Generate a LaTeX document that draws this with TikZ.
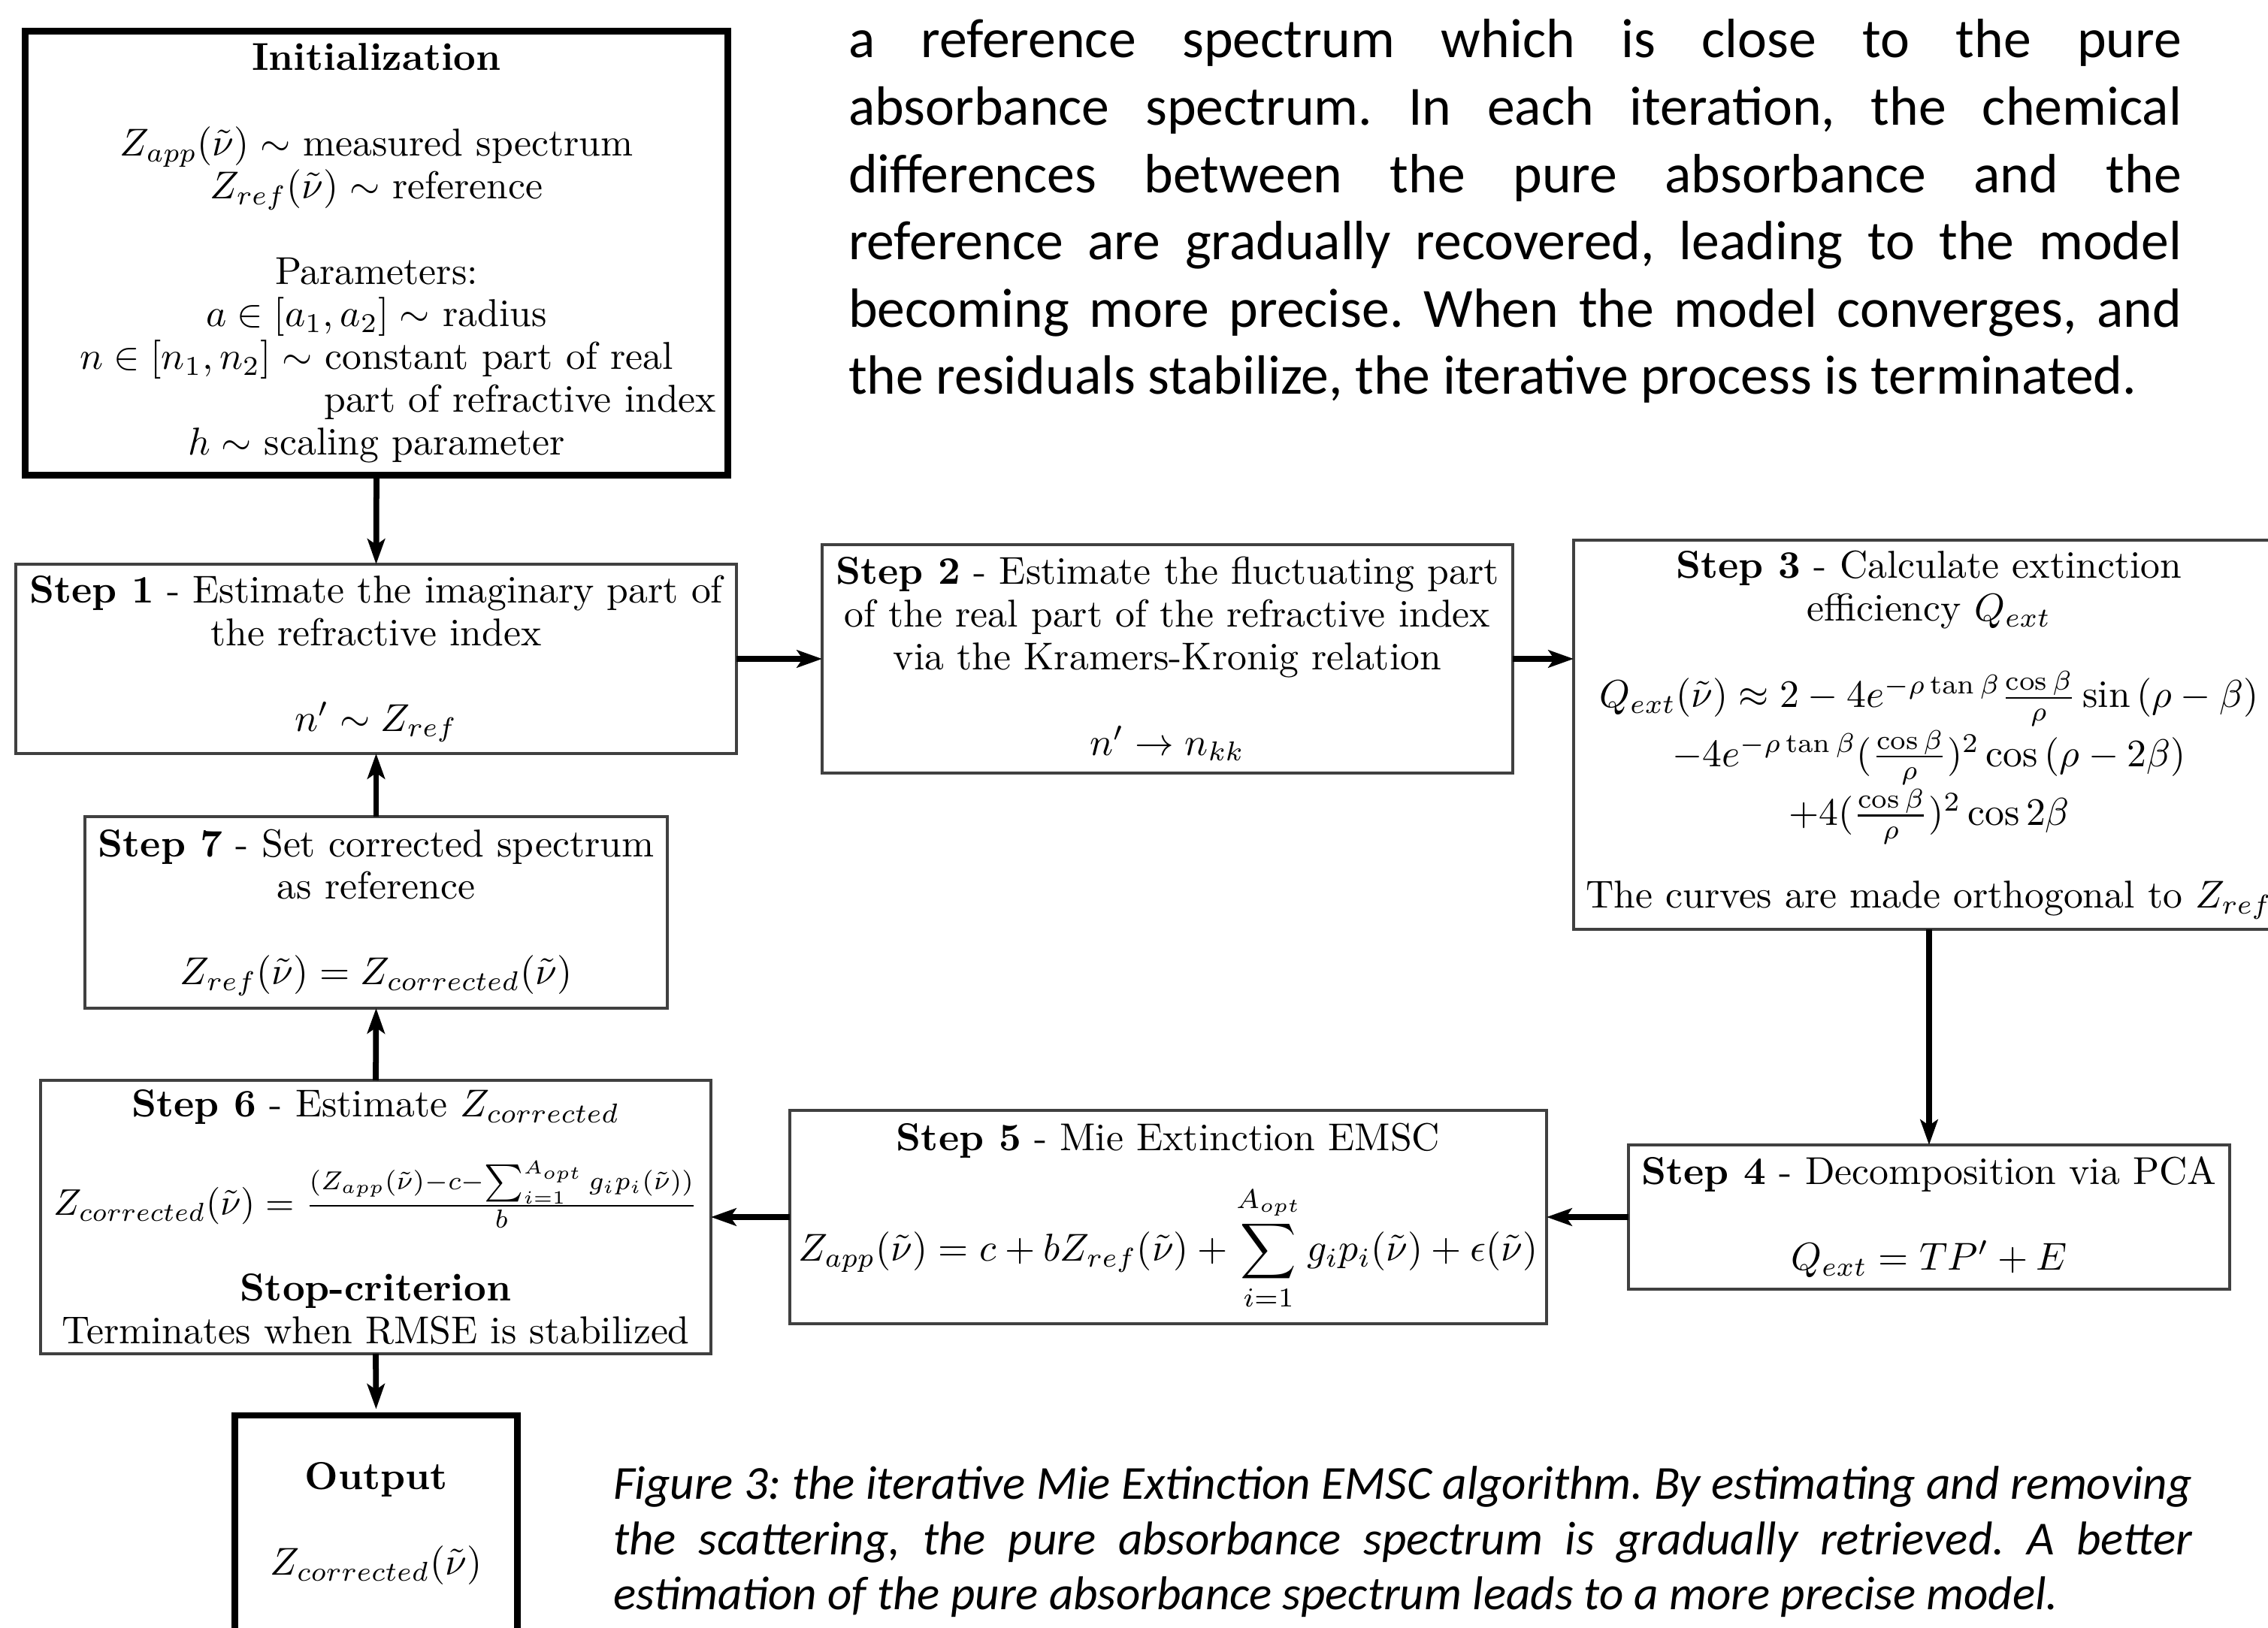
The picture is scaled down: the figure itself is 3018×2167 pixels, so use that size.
\documentclass[tikz,border=0pt]{standalone}
\usepackage{fontspec}
\usepackage{graphicx}
\usetikzlibrary{arrows.meta}
\newfontfamily\calfont{Carlito}
\frenchspacing
\begin{document}
\frenchspacing
\begin{tikzpicture}[x=0.1934pt,y=-0.1934pt,
  every node/.style={inner sep=0pt, outer sep=0pt},
  box/.style={draw=black!75, line width=0.6pt, align=center, font=\fontsize{10}{11}\selectfont},
  bigbox/.style={draw=black, line width=1.7pt, align=center, font=\fontsize{10}{11}\selectfont},
  sz/.style 2 args={minimum width=#1*0.1934pt, minimum height=#2*0.1934pt},
  arr/.style={line width=1.5pt, -{Stealth[length=6.5pt,width=4.5pt,inset=1.5pt]}},
  para/.style={anchor=base west, font=\calfont\fontsize{14.25}{17}\selectfont},
  capt/.style={anchor=base west, font=\calfont\itshape\fontsize{12.2}{14}\selectfont}]
\path[use as bounding box, fill=white] (0,0) rectangle (3018,2167);

% boxes
\node[bigbox, sz={935}{591}] (init) at (501,337) {%
\textbf{Initialization}\\[11pt]
$Z_{app}(\tilde{\nu})\sim$ measured spectrum\\
$Z_{ref}(\tilde{\nu})\sim$ reference\\[11pt]
Parameters:\\
$a\in[a_1,a_2]\sim$ radius\\
$n\in[n_1,n_2]\sim$ constant part of real\\
\hspace*{74pt}part of refractive index\\
$h\sim$ scaling parameter};

\node[box, sz={959}{252}] (s1) at (500.5,877) {%
\textbf{Step 1} - Estimate the imaginary part of\\
the refractive index\\[11pt]
$n'\sim Z_{ref}$};

\node[box, sz={919}{304}] (s2) at (1553.5,877) {%
\textbf{Step 2} - Estimate the fluctuating part\\
of the real part of the refractive index\\
via the Kramers-Kronig relation\\[11pt]
$n'\rightarrow n_{kk}$};

\node[box, sz={946}{518}] (s3) at (2567,978) {%
\textbf{Step 3} - Calculate extinction\\
efficiency $Q_{ext}$\\[10pt]
$Q_{ext}(\tilde{\nu})\approx 2-4e^{-\rho\tan\beta}\frac{\cos\beta}{\rho}\sin{(\rho-\beta)}$\\
$-4e^{-\rho\tan\beta}(\frac{\cos\beta}{\rho})^2\cos{(\rho-2\beta)}$\\
$+4(\frac{\cos\beta}{\rho})^2\cos{2\beta}$\\[8.5pt]
The curves are made orthogonal to $Z_{ref}$};

\node[box, sz={800}{192}] (s4) at (2567,1620) {%
\textbf{Step 4} - Decomposition via PCA\\[11pt]
$Q_{ext}=TP'+E$};

\node[box, sz={1007}{284}] (s5) at (1554.5,1620) {%
\textbf{Step 5} - Mie Extinction EMSC\\[6pt]
$\displaystyle Z_{app}(\tilde{\nu})=c+bZ_{ref}(\tilde{\nu})+\sum_{i=1}^{A_{opt}}g_ip_i(\tilde{\nu})+\epsilon(\tilde{\nu})$};

\node[box, sz={892}{364}] (s6) at (500,1620) {%
\textbf{Step 6} - Estimate $Z_{corrected}$\\[8.5pt]
\scalebox{0.955}{$Z_{corrected}(\tilde{\nu})=\frac{(Z_{app}(\tilde{\nu})-c-\sum_{i=1}^{A_{opt}}g_ip_i(\tilde{\nu}))}{b}$}\\[11pt]
\textbf{Stop-criterion}\\
Terminates when RMSE is stabilized};

\node[box, sz={775}{255}] (s7) at (500.5,1214.5) {%
\textbf{Step 7} - Set corrected spectrum\\
as reference\\[11pt]
$Z_{ref}(\tilde{\nu})=Z_{corrected}(\tilde{\nu})$};

\node[bigbox, sz={376}{288}] (out) at (500.5,2028) {%
\textbf{Output}\\[11pt]
$Z_{corrected}(\tilde{\nu})$};

% connectors
\draw[arr] (init.south) -- (s1.north);
\draw[arr] (s1.east) -- (s2.west);
\draw[arr] (s2.east) -- (s2.east -| s3.west);
\draw[arr] (s3.south) -- (s4.north);
\draw[arr] (s4.west) -- (s5.east);
\draw[arr] (s5.west) -- (s6.east);
\draw[arr] (s6.north) -- (s7.south);
\draw[arr] (s7.north) -- (s1.south);
\draw[arr, shorten >=1.6pt] (s6.south) -- (out.north);

% body text
\node[para] (p1) at (1129,77) {\makebox[343.1pt][s]{a reference spectrum which is close to the pure}};
\node[para] (p2) at (1129,166.6) {\makebox[343.1pt][s]{absorbance spectrum. In each iteration, the chemical}};
\node[para] (p3) at (1129,256.2) {\makebox[343.1pt][s]{differences between the pure absorbance and the}};
\node[para] (p4) at (1129,345.8) {\makebox[343.1pt][s]{reference are gradually recovered, leading to the model}};
\node[para] (p5) at (1129,435.4) {\makebox[343.1pt][s]{becoming more precise. When the model converges, and}};
\node[para] (p6) at (1129,525) {the residuals stabilize, the iterative process is terminated.};

% caption
\node[capt] (c1) at (816,1996) {\makebox[406.3pt][s]{Figure 3: the iterative Mie Extinction EMSC algorithm. By estimating and removing}};
\node[capt] (c2) at (816,2070) {\makebox[406.3pt][s]{the scattering, the pure absorbance spectrum is gradually retrieved. A better}};
\node[capt] (c3) at (816,2143) {estimation of the pure absorbance spectrum leads to a more precise model.};
\end{tikzpicture}
\end{document}
